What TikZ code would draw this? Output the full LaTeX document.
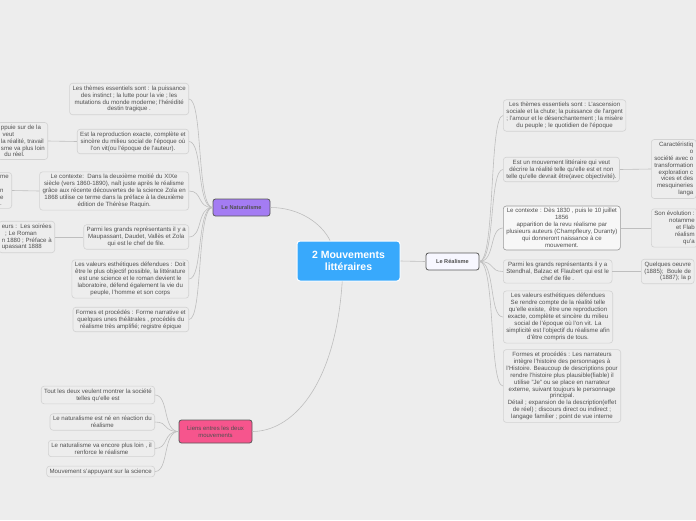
\documentclass[tikz,border=0pt]{standalone}
\usepackage{fontspec}
\setmainfont{Liberation Sans}
\usepackage{xcolor}
\usetikzlibrary{positioning}
\definecolor{fond}{HTML}{EDEDED}
\definecolor{bleu}{HTML}{38A9FC}
\definecolor{violet}{HTML}{A47CF3}
\definecolor{rose}{HTML}{F6558D}
\definecolor{trait}{HTML}{BEBEBE}
\definecolor{bord}{HTML}{D2D2D2}
\definecolor{texte}{HTML}{505050}

\begin{document}
\begin{tikzpicture}[x=1pt,y=-1pt,
  idee/.style={draw=bord,fill=fond,rounded corners=3pt,align=center,text=texte,
    font=\fontsize{6.1}{6.9}\selectfont,inner xsep=3pt,inner ysep=2.5pt,line width=0.6pt},
  branche/.style={draw=black!65,rounded corners=2.5pt,line width=0.8pt,text=texte,
    align=center,font=\fontsize{6}{6.8}\selectfont},
  lien/.style={draw=trait,line width=0.6pt}]
  % fond
  \fill[fond] (0,0) rectangle (696,520);
  \clip (0,0) rectangle (696,520);

  % centre
  \node[fill=bleu,draw=white,line width=1pt,rounded corners=3pt,text=white,align=center,
    minimum width=103pt,minimum height=40pt,font=\bfseries\fontsize{10.5}{12}\selectfont]
    (centre) at (348.5,261) {2 Mouvements\\ littéraires};

  % branches
  \node[branche,fill=violet,minimum width=57pt,minimum height=17pt,font=\bfseries\fontsize{5.6}{6.5}\selectfont]
    (nat) at (241.5,207.5) {Le Naturalisme};
  \node[branche,fill=blue!3,minimum width=53pt,minimum height=17pt,font=\bfseries\fontsize{5.6}{6.5}\selectfont]
    (real) at (452.5,261.5) {Le Réalisme};
  \node[branche,fill=rose,minimum width=73pt,minimum height=23pt]
    (liens) at (215.5,431.5) {Liens entres les deux\\ mouvements};

  % le naturalisme
  \node[idee,anchor=east] (n1) at (189,99) {Les thèmes essentiels sont : la puissance\\ des instinct ; la lutte pour la vie ; les\\ mutations du monde moderne; l'hérédité\\ destin tragique .};
  \node[idee,anchor=east] (n2) at (189,141.5) {Est la reproduction exacte, complète et\\ sincère du milieu social de l'époque où\\ l'on vit(ou l'époque de l'auteur).};
  \node[idee,anchor=east] (n3) at (189,191) {Le contexte:\ \ Dans la deuxième moitié du XIXe\\ siècle (vers 1860-1890), naît juste après le réalisme\\ grâce aux récente découvertes de la science Zola en\\ 1868 utilise ce terme dans la préface à la deuxième\\ édition de Thérèse Raquin.};
  \node[idee,anchor=east] (n4) at (189,237) {Parmi les grands représentants il y a\\ Maupassant, Daudet, Vallès et Zola\\ qui est le chef de file.};
  \node[idee,anchor=east] (n5) at (189,279) {Les valeurs esthétiques défendues : Doit\\ être le plus objectif possible, la littérature\\ est une science et le roman devient le\\ laboratoire, défend également la vie du\\ peuple, l'homme et son corps};
  \node[idee,anchor=east] (n6) at (189,319.5) {Formes et procédés : Forme narrative et\\ quelques unes théâtrales , procédés du\\ réalisme très amplifié; registre épique};
  % coupés à gauche
  \node[idee,anchor=east,align=left] (n2a) at (48,141) {ppuie sur de la\\ \ veut\\ la réalité, travail\\ sme va plus loin\\ \ \ du réel.};
  \node[idee,anchor=east,align=left] (n3a) at (12,190.5) {me\\ \\ n\\ e\\ .};
  \node[idee,anchor=east,align=left] (n4a) at (55,237) {eurs :\ \ Les soirées\\ \ \ ; Le Roman\\ n 1880 ; Préface à\\ upassant 1888};

  % le réalisme
  \node[idee,anchor=west] (r1) at (503,115.5) {Les thèmes essentiels sont : L'ascension\\ sociale et la chute; la puissance de l'argent\\ ; l'amour et le désenchantement ; la misère\\ du peuple ; le quotidien de l'époque};
  \node[idee,anchor=west] (r2) at (503,169.5) {Est un mouvement littéraire qui veut\\ décrire la réalité telle qu'elle est et non\\ telle qu'elle devrait être(avec objectivité).};
  \node[idee,anchor=west,fill=white!55!fond,draw=black!40] (r3) at (503,228) {Le contexte : Dès 1830 , puis le 10 juillet\\ 1856\\ apparition de la revu réalisme par\\ plusieurs auteurs (Champfleury, Duranty)\\ qui donneront naissance à ce\\ mouvement.};
  \node[idee,anchor=west] (r4) at (503,271.5) {Parmi les grands représentants il y a\\ Stendhal, Balzac et Flaubert qui est le\\ chef de file .};
  \node[idee,anchor=west] (r5) at (503,317) {Les valeurs esthétiques défendues\\ Se rendre compte de la réalité telle\\ qu'elle existe,\ \ être une reproduction\\ exacte, complète et sincère du milieu\\ social de l'époque où l'on vit. La\\ simplicité est l'objectif du réalisme afin\\ d'être compris de tous.};
  \node[idee,anchor=west] (r6) at (503,386) {Formes et procédés : Les narrateurs\\ intègre l'histoire des personnages à\\ l'Histoire. Beaucoup de descriptions pour\\ rendre l'histoire plus plausible(fiable) il\\ utilise "Je" ou se place en narrateur\\ externe, suivant toujours le personnage\\ principal.\\ Détail ; expansion de la description(effet\\ de réel) ; discours direct ou indirect ;\\ langage familier ; point de vue interne};
  % coupés à droite
  \node[idee,anchor=west,align=right] (r2a) at (651,169) {Caractéristiq\\ o\\ société avec o\\ transformation\\ exploration c\\ vices et des\\ mesquineries\\ langa};
  \node[idee,anchor=west,align=right] (r3a) at (651,228) {Son évolution :\\ notamme\\ et Flab\\ réalism\\ qu'a};
  \node[idee,anchor=west,align=right] (r4a) at (641,271.5) {Quelques oeuvre\\ (1885);\ \ Boule de\\ (1887); la p};

  % liens
  \node[idee,anchor=east] (l1) at (155,395) {Tout les deux veulent montrer la société\\ telles qu'elle est};
  \node[idee,anchor=east] (l2) at (155,422) {Le naturalisme est né en réaction du\\ réalisme};
  \node[idee,anchor=east] (l3) at (155,448.5) {Le naturalisme va encore plus loin , il\\ renforce le réalisme};
  \node[idee,anchor=east] (l4) at (155,471.5) {Mouvement s'appuyant sur la science};

  % traits du centre
  \draw[lien] (centre.132) .. controls (322,224) and (300,207.5) .. (nat.east);
  \draw[lien] (centre.east) -- (real.west);
  \draw[lien] (centre.253) .. controls (335,390) and (290,431.5) .. (liens.east);

  % traits du naturalisme
  \draw[lien] (nat.west) .. controls +(-16,0) and +(14,0) .. (n1.east);
  \draw[lien] (nat.west) .. controls +(-16,0) and +(14,0) .. (n2.east);
  \draw[lien] (nat.west) .. controls +(-16,0) and +(14,0) .. (n3.east);
  \draw[lien] (nat.west) .. controls +(-16,0) and +(14,0) .. (n4.east);
  \draw[lien] (nat.west) .. controls +(-16,0) and +(14,0) .. (n5.east);
  \draw[lien] (nat.west) .. controls +(-16,0) and +(14,0) .. (n6.east);
  \draw[lien] (n2a.east) -- (n2.west);
  \draw[lien] (n3a.east) -- (n3.west);
  \draw[lien] (n4a.east) -- (n4.west);

  % traits du réalisme
  \draw[lien] (real.east) .. controls +(16,0) and +(-14,0) .. (r1.west);
  \draw[lien] (real.east) .. controls +(16,0) and +(-14,0) .. (r2.west);
  \draw[lien] (real.east) .. controls +(16,0) and +(-14,0) .. (r3.west);
  \draw[lien] (real.east) .. controls +(16,0) and +(-14,0) .. (r4.west);
  \draw[lien] (real.east) .. controls +(16,0) and +(-14,0) .. (r5.west);
  \draw[lien] (real.east) .. controls +(16,0) and +(-14,0) .. (r6.west);
  \draw[lien] (r2.east) -- (r2a.west);
  \draw[lien] (r3.east) -- (r3a.west);
  \draw[lien] (r4.east) -- (r4a.west);

  % traits des liens
  \draw[lien] (liens.west) .. controls +(-16,0) and +(14,0) .. (l1.east);
  \draw[lien] (liens.west) .. controls +(-16,0) and +(14,0) .. (l2.east);
  \draw[lien] (liens.west) .. controls +(-16,0) and +(14,0) .. (l3.east);
  \draw[lien] (liens.west) .. controls +(-16,0) and +(14,0) .. (l4.east);
\end{tikzpicture}
\end{document}
